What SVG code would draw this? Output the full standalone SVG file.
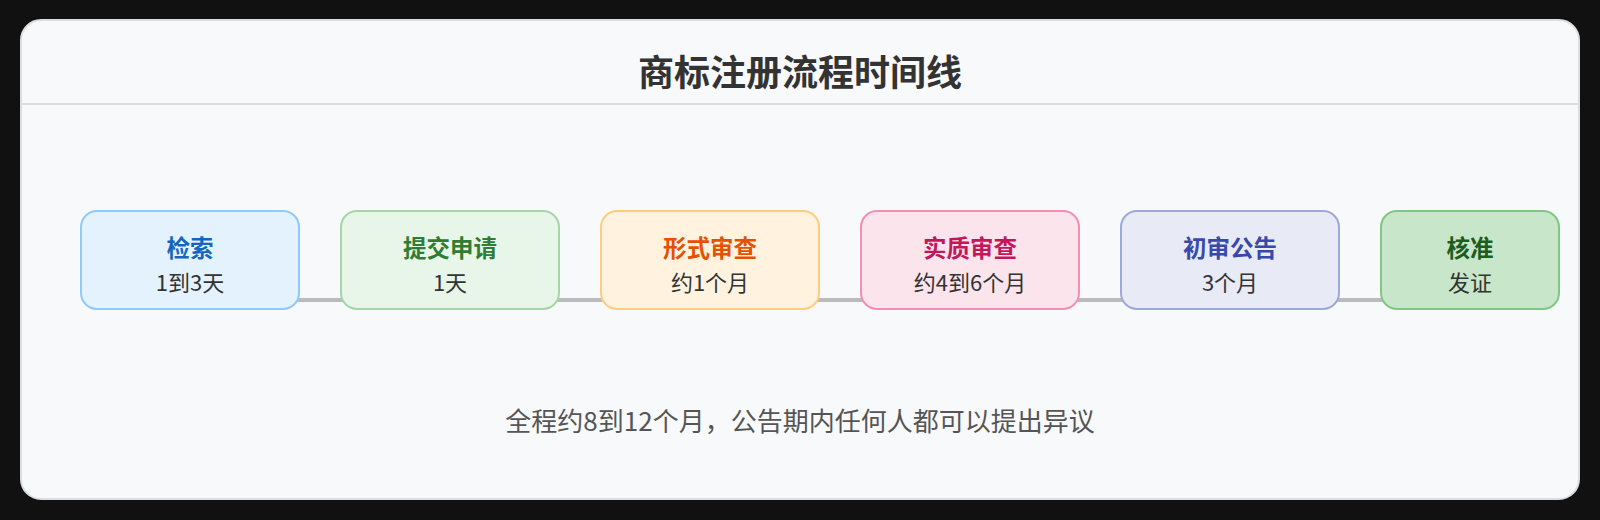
<svg xmlns="http://www.w3.org/2000/svg" width="1600" height="520" viewBox="0 0 1600 520">
  <style>
    text { font-family: "Noto Sans CJK SC", "Noto Sans", sans-serif; text-anchor: middle; }
    .title { font-size: 36px; font-weight: 700; fill: #333333; }
    .lbl { font-size: 23.5px; font-weight: 700; }
    .sub { font-size: 22px; fill: #333333; }
    .foot { font-size: 26px; fill: #555555; }
    .box { stroke-width: 2; }
  </style>
  <rect x="0" y="0" width="1600" height="520" fill="#111111"/>
  <g id="card">
    <rect x="21" y="20" width="1558" height="479" rx="20" ry="20" fill="#f8f9fb" stroke="#dcdde3" stroke-width="2"/>
    <line x1="22" y1="104" x2="1578" y2="104" stroke="#dcdde3" stroke-width="2"/>
    <text class="title" x="800" y="86">商标注册流程时间线</text>
  </g>
  <g id="connectors">
    <line x1="190" y1="300" x2="1470" y2="300" stroke="#bbbbbb" stroke-width="4"/>
  </g>
  <g id="node-1">
    <rect class="box" x="81" y="211" width="218" height="98" rx="16" fill="#e3f2fd" stroke="#90caf9"/>
    <text class="lbl" x="190" y="257" fill="#1565c0">检索</text>
    <text class="sub" x="190" y="291">1到3天</text>
  </g>
  <g id="node-2">
    <rect class="box" x="341" y="211" width="218" height="98" rx="16" fill="#e8f5e9" stroke="#a5d6a7"/>
    <text class="lbl" x="450" y="257" fill="#2e7d32">提交申请</text>
    <text class="sub" x="450" y="291">1天</text>
  </g>
  <g id="node-3">
    <rect class="box" x="601" y="211" width="218" height="98" rx="16" fill="#fff3e0" stroke="#ffcc80"/>
    <text class="lbl" x="710" y="257" fill="#e65100">形式审查</text>
    <text class="sub" x="710" y="291">约1个月</text>
  </g>
  <g id="node-4">
    <rect class="box" x="861" y="211" width="218" height="98" rx="16" fill="#fce4ec" stroke="#f48fb1"/>
    <text class="lbl" x="970" y="257" fill="#c2185b">实质审查</text>
    <text class="sub" x="970" y="291">约4到6个月</text>
  </g>
  <g id="node-5">
    <rect class="box" x="1121" y="211" width="218" height="98" rx="16" fill="#e8eaf6" stroke="#9fa8da"/>
    <text class="lbl" x="1230" y="257" fill="#3949ab">初审公告</text>
    <text class="sub" x="1230" y="291">3个月</text>
  </g>
  <g id="node-6">
    <rect class="box" x="1381" y="211" width="178" height="98" rx="16" fill="#c8e6c9" stroke="#81c784"/>
    <text class="lbl" x="1470" y="257" fill="#1b5e20">核准</text>
    <text class="sub" x="1470" y="291">发证</text>
  </g>
  <g id="footer">
    <text class="foot" x="800" y="431">全程约8到12个月，公告期内任何人都可以提出异议</text>
  </g>
</svg>
